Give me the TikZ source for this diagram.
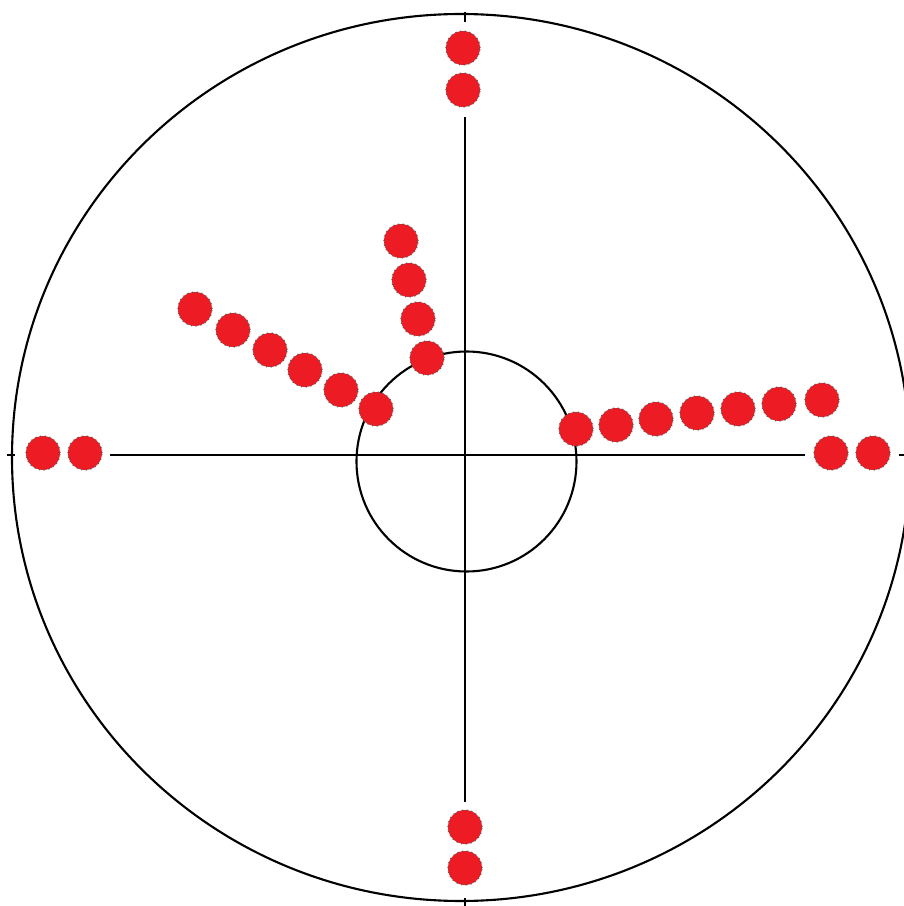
\documentclass[tikz,border=0pt]{standalone}
\definecolor{dotred}{RGB}{237,28,36}
\begin{document}
\begin{tikzpicture}[
    x=1cm,y=1cm,
    axis/.style={draw=black, line width=0.6pt},
    ring/.style={draw=black, line width=0.6pt},
    bead/.style={circle, fill=dotred, draw=black!65, densely dotted, line width=0.35pt, minimum size=0.34cm, inner sep=0pt}
]
    \useasboundingbox (-4.65,-4.51) rectangle (4.39,4.55);

    \draw[ring] (-0.04,-0.025) ellipse [x radius=4.49, y radius=4.435];
    \draw[ring] (0.015,-0.065) circle [radius=1.10];

    \draw[axis] (-3.55,0) -- (3.40,0);
    \draw[axis] (0,3.38) -- (0,-3.47);
    \draw[axis] (-4.58,0) -- (-4.50,0);
    \draw[axis] (4.34,0) -- (4.46,0);
    \draw[axis] (0,4.43) -- (0,4.33);
    \draw[axis] (0,-4.43) -- (0,-4.52);

    % pairs on the axes
    \node[bead] (w1) at (-4.22,0.02) {};
    \node[bead] (w2) at (-3.80,0.02) {};
    \node[bead] (e1) at (3.66,0.02) {};
    \node[bead] (e2) at (4.08,0.02) {};
    \node[bead] (n1) at (-0.02,4.07) {};
    \node[bead] (n2) at (-0.02,3.65) {};
    \node[bead] (s1) at (0,-3.72) {};
    \node[bead] (s2) at (0,-4.13) {};

    % arms
    \foreach \p [count=\i] in {(1.11,0.26),(1.51,0.30),(1.91,0.36),(2.32,0.42),(2.73,0.46),(3.14,0.51),(3.57,0.55)}
        \node[bead] (r\i) at \p {};
    \foreach \p [count=\i] in {(-2.70,1.46),(-2.32,1.25),(-1.95,1.05),(-1.60,0.85),(-1.24,0.65),(-0.89,0.46)}
        \node[bead] (l\i) at \p {};
    \foreach \p [count=\i] in {(-0.64,2.14),(-0.56,1.75),(-0.47,1.36),(-0.38,0.97)}
        \node[bead] (u\i) at \p {};
\end{tikzpicture}
\end{document}
